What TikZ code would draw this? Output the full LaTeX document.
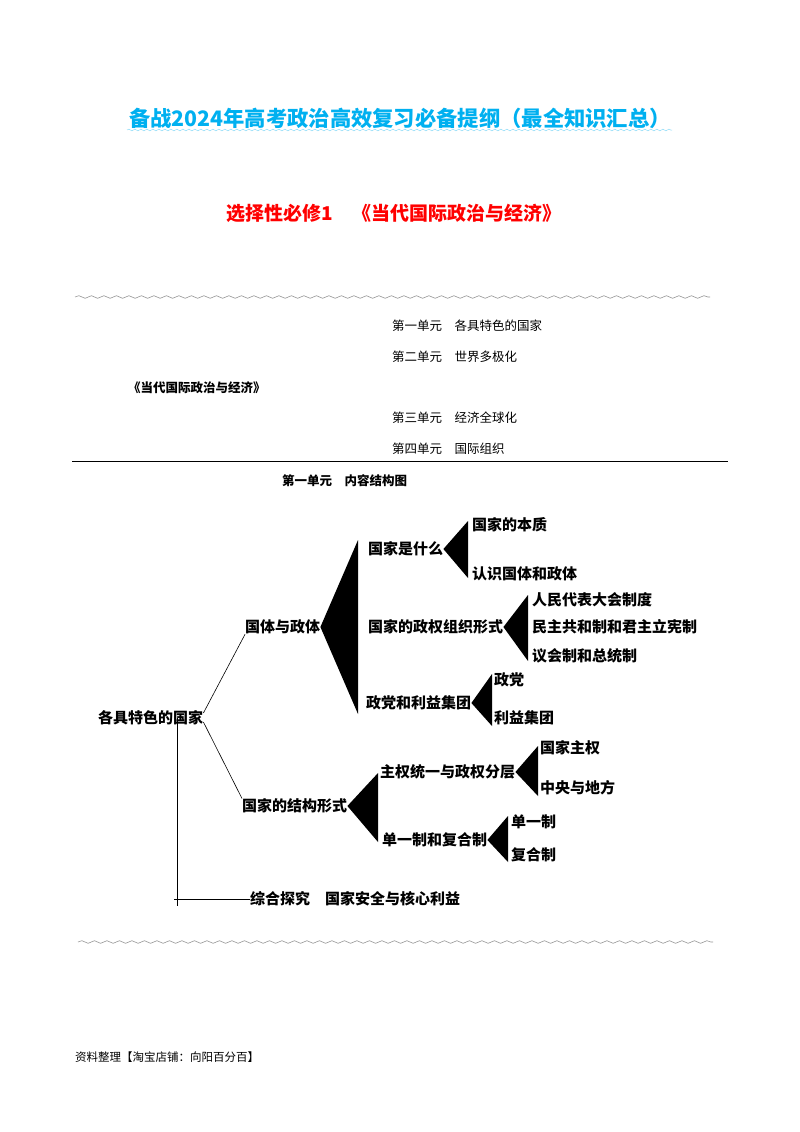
\documentclass[tikz,border=0pt]{standalone}
\usepackage{fontspec}
\setmainfont{Noto Sans CJK SC}
\usetikzlibrary{decorations.pathmorphing}
\definecolor{tblue}{RGB}{0,176,240}
\definecolor{tilde}{RGB}{150,150,150}
\begin{document}
\begin{tikzpicture}[x=1pt,y=-1pt,
  t/.style={anchor=west,inner sep=0pt,font=\fontsize{15}{15}\selectfont\bfseries},
  u/.style={anchor=west,inner sep=0pt,font=\fontsize{12.5}{13}\selectfont},
  wedge/.style={fill=black,draw=none},
  ln/.style={draw=black,line width=0.8pt},
  wave/.style={draw=tilde,line width=0.6pt,decorate,decoration={snake,amplitude=1.3pt,segment length=12.5pt}}]
\useasboundingbox (0,0) rectangle (800,1132);
\fill[white] (0,0) rectangle (800,1132);
% header
\node[inner sep=0pt,text=tblue,font=\fontsize{21.3}{21}\selectfont\bfseries] (title) at (400,118) {备战2024年高考政治高效复习必备提纲（最全知识汇总）};
\coordinate (ul1) at (127,130); \coordinate (ul2) at (672,130);
\draw[draw=tblue!45,line width=0.5pt,decorate,decoration={snake,amplitude=0.8pt,segment length=6pt}] (ul1) -- (ul2);
\node[inner sep=0pt,text=red,font=\fontsize{19}{19}\selectfont\bfseries] (sub) at (394,213) {选择性必修1\quad 《当代国际政治与经济》};
\coordinate (w1) at (75,297); \coordinate (w2) at (710,297);
\draw[wave] (w1) -- (w2);
\node[u] (u1) at (392,326) {第一单元\quad 各具特色的国家};
\node[u] (u2) at (392,357) {第二单元\quad 世界多极化};
\node[u,font=\fontsize{12.5}{13}\selectfont\bfseries] (book) at (128,388) {《当代国际政治与经济》};
\node[u] (u3) at (392,418) {第三单元\quad 经济全球化};
\node[u] (u4) at (392,449) {第四单元\quad 国际组织};
\coordinate (h1) at (72,461); \coordinate (h2) at (728,461);
\draw[line width=0.8pt] (h1) -- (h2);
\node[u,font=\fontsize{12.5}{13}\selectfont\bfseries] (cap) at (282,481) {第一单元\quad 内容结构图};
% tree
\node[t] (root) at (98,718) {各具特色的国家};
\node[t] (gt) at (245,627) {国体与政体};
\node[t] (jg) at (242,806) {国家的结构形式};
\node[t] (sm) at (368,549) {国家是什么};
\node[t] (zq) at (368,627) {国家的政权组织形式};
\node[t] (zd) at (366,703) {政党和利益集团};
\node[t] (bz) at (472,525) {国家的本质};
\node[t] (rs) at (472,574) {认识国体和政体};
\node[t] (rd) at (532,600) {人民代表大会制度};
\node[t] (mz) at (532,627) {民主共和制和君主立宪制};
\node[t] (yh) at (532,656) {议会制和总统制};
\node[t] (d) at (494,680) {政党};
\node[t] (lj) at (494,718) {利益集团};
\node[t] (fc) at (380,772) {主权统一与政权分层};
\node[t] (dy) at (382,840) {单一制和复合制};
\node[t] (zqu) at (540,748) {国家主权};
\node[t] (zy) at (540,788) {中央与地方};
\node[t] (dyz) at (511,822) {单一制};
\node[t] (fh) at (511,855) {复合制};
\node[t] (zh) at (250,899) {综合探究\quad 国家安全与核心利益};
% wedges
\fill[wedge] (gt.east) -- (358,540) -- (358,714) -- cycle;
\fill[wedge] (sm.east) -- (468,521) -- (468,578) -- cycle;
\fill[wedge] (zq.east) -- (528,595) -- (528,661) -- cycle;
\fill[wedge] (zd.east) -- (492,674) -- (492,726) -- cycle;
\fill[wedge] (jg.east) -- (378,773) -- (378,842) -- cycle;
\fill[wedge] (fc.east) -- (538,746) -- (538,796) -- cycle;
\fill[wedge] (dy.east) -- (508,816) -- (508,862) -- cycle;
% connectors
\draw[ln,line width=0.6pt] (root.east) ++(0,-5) -- (gt.south west);
\draw[ln,line width=0.6pt] (root.east) ++(0,4) -- (jg.north west);
\coordinate (v1) at (177,718); \coordinate (v2) at (177,906); \coordinate (hs) at (174,899);
\draw[ln] (v1) -- (v2);
\draw[ln] (hs) -- (hs -| zh.west);
\coordinate (w3) at (78,942); \coordinate (w4) at (713,942);
\draw[wave] (w3) -- (w4);
\node[u,font=\fontsize{11.5}{12}\selectfont] (foot) at (75,1057) {资料整理【淘宝店铺：向阳百分百】};
\end{tikzpicture}
\end{document}
